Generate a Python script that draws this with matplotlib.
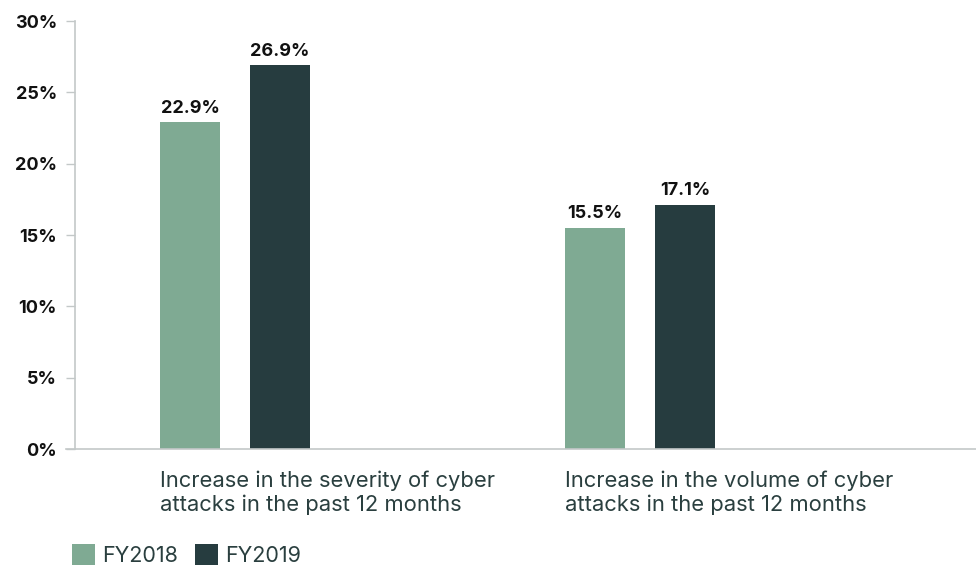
import matplotlib.pyplot as plt
import numpy as np
from matplotlib.lines import Line2D

categories = ["Increase in the severity of cyber\nattacks in the past 12 months",
              "Increase in the volume of cyber\nattacks in the past 12 months"]
series = ["FY2018", "FY2019"]
fy2018 = [22.9, 15.5]
fy2019 = [26.9, 17.1]
yticks = [0, 5, 10, 15, 20, 25, 30]

colors = ["#7faa93", "#263c3f"]
grey = "#c3c8c8"
W, H = 976, 567

plt.rcParams['font.family'] = ['Inter', 'DejaVu Sans']

fig = plt.figure(figsize=(W / 100, H / 100), dpi=100)
ax = fig.add_axes([75 / W, 1 - 449 / H, 1 - 75 / W, (449 - 21) / H])

x = np.arange(len(categories))
width = 60 / 405
offset = 45 / 405

for vals, off, c, name in zip([fy2018, fy2019], [-offset, offset], colors, series):
    bars = ax.bar(x + off, vals, width=width, color=c, label=name)
    for b, v in zip(bars, vals):
        ax.annotate(f"{v}%", (b.get_x() + b.get_width() / 2, v),
                    xytext=(0, 4), textcoords="offset points",
                    ha="center", va="bottom", fontsize=13,
                    fontweight="bold", color="#111111")

ax.set_xlim(-160 / 405, (W - 235) / 405)
ax.set_ylim(0, 30)
ax.set_yticks(yticks)
ax.set_yticklabels([f"{t}%" for t in yticks], fontsize=13,
                   fontweight="bold", color="#111111")
ax.tick_params(axis="y", length=6.5, width=1, color=grey, pad=6.5)
ax.set_xticks([])

for s in ["top", "right", "bottom"]:
    ax.spines[s].set_visible(False)
ax.spines["left"].set_color(grey)
ax.spines["left"].set_linewidth(1.2)

# baseline runs a bit left of the y axis
fig.add_artist(Line2D([66 / W, 1], [1 - 449 / H, 1 - 449 / H],
                      color=grey, lw=1.2, transform=fig.transFigure))

for i, cat in enumerate(categories):
    ax.text(i - offset - width / 2, -1.5, cat, ha="left", va="top",
            fontsize=15.8, color="#2a3f3f", linespacing=1.2)

fig.legend(loc="lower left", bbox_to_anchor=(72 / W, 0.002), ncol=2,
           frameon=False, fontsize=15.5,
           handlelength=1.07, handleheight=1.15,
           handletextpad=0.32, columnspacing=0.79, labelcolor="#2a3f3f",
           borderpad=0, borderaxespad=0)

fig.savefig("out.png", dpi=100)
